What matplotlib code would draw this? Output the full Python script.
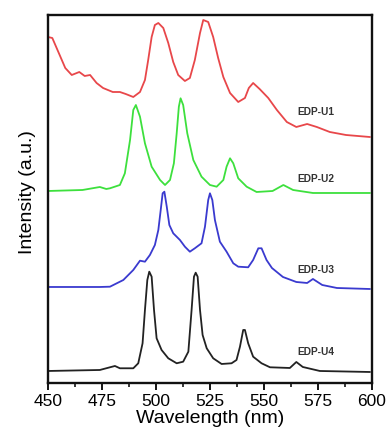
import numpy as np
import matplotlib
matplotlib.use("Agg")
import matplotlib.pyplot as plt
from matplotlib.ticker import MultipleLocator

plt.rcParams["font.family"] = ["Liberation Sans", "DejaVu Sans"]

# stacked emission spectra (arbitrary units, offsets already included)
wl_u1 = [450, 452, 455, 458, 461, 464.5, 467, 469.5, 472.5, 475.5, 480, 483.3, 486, 489.5,
         492.6, 494.9, 496.4, 498, 499.5, 501.1, 503.4, 505.7, 508, 510.3, 513.4, 515.7,
         518, 520.4, 521.9, 524.2, 526.5, 528.8, 531.2, 534.3, 538.1, 541.2, 543, 545,
         548, 552, 556, 560.6, 565, 570, 574.5, 580.5, 588, 599]
int_u1 = [346, 345, 330, 315, 308, 311, 307, 308, 300, 295, 291, 291, 289, 286,
          291, 303, 323, 346, 358, 360, 355, 340, 321, 308, 302, 305,
          323, 350, 363, 361, 346, 325, 306, 290, 281, 285, 295, 300,
          294, 285, 273, 261, 256, 259, 256, 251, 248, 246]

wl_u2 = [450, 466, 474, 477, 478.7, 483.3, 485.6, 488, 489.5, 490.7, 492.6, 494.9, 498,
         501.9, 504.2, 506.5, 508.3, 509.6, 510.6, 511.4, 512.6, 514.5, 517.3, 521.1, 525,
         528.1, 531.2, 532.7, 534.3, 535.8, 538.1, 542, 546.6, 554, 559, 563.5, 572.7, 599]
int_u2 = [192, 193, 196, 194, 194.7, 198, 209.7, 243, 273, 278, 266.3, 239.7, 216.3,
          203, 198, 203, 219.7, 249.7, 276.3, 284.7, 278, 249.7, 223, 206.3, 198,
          196.3, 203, 216.3, 224.7, 219.7, 204.7, 196.3, 191, 192, 198, 193, 190, 190]

wl_u3 = [450, 474, 478.7, 484.9, 489.5, 492.6, 494.9, 497.2, 499.5, 501.1, 502.2, 503.1,
         503.9, 505, 506.2, 508, 511.1, 513.4, 515.7, 518, 521.1, 522.7, 524.2, 525, 526.1,
         527.3, 529.6, 532.7, 535.8, 538.1, 542.7, 545, 547.4, 548.9, 551.2, 553.7, 558.8,
         565, 570, 572.7, 577, 583.8, 599]
int_u3 = [96, 96, 96.3, 103, 113, 122.3, 121.3, 128, 138, 153, 173, 189.7,
          191.3, 176.3, 158, 149.7, 143, 136.3, 131.3, 134.7, 139.7, 156.3, 183, 189.7, 183,
          163, 141.3, 131.3, 119.7, 116.3, 115.7, 123, 134.7, 134.7, 123, 115, 106,
          101, 100, 104, 98, 95, 94]

wl_u4 = [450, 474, 478.7, 481, 483.3, 489.5, 491.8, 493.8, 494.9, 496, 496.9, 498, 499.1,
         500.3, 502.6, 505.7, 509.6, 512.6, 515, 516.5, 517.6, 518.4, 519.3, 520.4, 521.6,
         523.5, 526.5, 530.4, 535, 537.3, 538.9, 540.4, 541.2, 542.7, 545, 548.9, 552.8,
         562, 565, 568, 575.9, 599]
int_u4 = [12, 13, 15.7, 17, 14.7, 14.7, 19.7, 39.7, 73, 103, 111.3, 106.3, 73,
          44.7, 33, 24.7, 19.7, 21.3, 31.3, 73, 106.3, 110.3, 106.3, 73, 48,
          34.7, 24.7, 19, 19.7, 23, 36.3, 53, 53, 39.7, 26.3, 19.7, 15.7,
          15, 21, 16, 12, 11]

names = ["EDP-U1", "EDP-U2", "EDP-U3", "EDP-U4"]
label_y = [271, 204, 113, 31]

fig = plt.figure(figsize=(3.87, 4.36), dpi=100)
ax = fig.add_axes([0.124, 0.1216, 0.837, 0.844])

series = [(wl_u1, int_u1, "#e8474a"), (wl_u2, int_u2, "#3de03d"),
          (wl_u3, int_u3, "#3a3acf"), (wl_u4, int_u4, "#222222")]
for (x, y, c), name, ly in zip(series, names, label_y):
    ax.plot(x, y, color=c, lw=1.3, solid_joinstyle="round")
    ax.text(565.5, ly, name, fontsize=7.3, fontweight="bold", color="#333333",
            ha="left", va="center")

ax.set_xlim(450, 600)
ax.set_ylim(0, 368)
ax.xaxis.set_major_locator(MultipleLocator(25))
ax.xaxis.set_minor_locator(MultipleLocator(12.5))
ax.tick_params(axis="x", which="major", direction="out", length=5, width=1.3,
               labelsize=12.5, pad=3)
ax.tick_params(axis="x", which="minor", direction="out", length=3, width=1.1)
ax.set_yticks([])
for s in ax.spines.values():
    s.set_linewidth(1.7)
    s.set_color("#111111")

ax.set_xlabel("Wavelength (nm)", fontsize=14, labelpad=1)
ax.set_ylabel("Intensity (a.u.)", fontsize=14)
ax.yaxis.set_label_coords(-0.036, 0.52)

fig.savefig("out.png", dpi=100)
